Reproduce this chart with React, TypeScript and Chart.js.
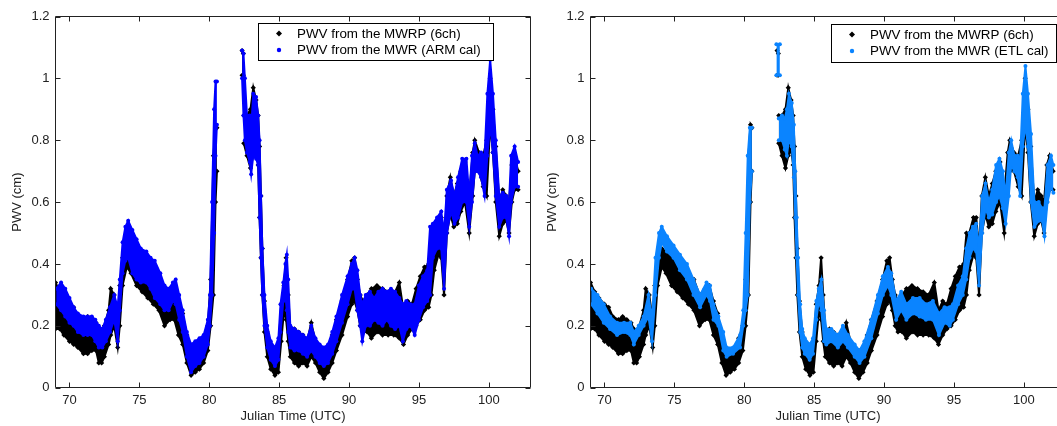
import React, { useEffect, useRef } from "react";
import { Chart, registerables } from "chart.js";

Chart.register(...registerables);

// ---- axis ticks ----
const xTickValues = [70, 75, 80, 85, 90, 95, 100];
const yTickValues = [0, 0.2, 0.4, 0.6, 0.8, 1, 1.2];

// ---- PWV from the MWRP (6ch): envelope (upper / lower) of the scatter, null = data gap ----
const mwrpT = [
  69.0, 69.3, 69.6, 70.0, 70.3, 70.6, 71.0, 71.3, 71.6, 71.9,
  72.1, 72.3, 72.5, 72.8, 72.95, 73.2, 73.45, 73.6, 73.8, 74.1,
  74.4, 74.8, 75.2, 75.6, 76.0, 76.4, 76.8, 77.2, 77.5, 77.8,
  78.1, 78.4, 78.7, 79.0, 79.3, 79.6, 79.9, 80.1, 80.3, 80.45,
  80.55, null, 82.35, 82.44, null, 82.47, 82.7, 82.95, 83.15, 83.35,
  83.5, 83.6, 83.7, 83.8, 83.95, 84.15, 84.4, 84.7, 84.95, 85.15,
  85.35, 85.5, 85.65, 85.8, 86.1, 86.4, 86.7, 87.0, 87.3, 87.6,
  87.9, 88.2, 88.5, 88.8, 89.1, 89.5, 89.9, 90.2, 90.4, 90.6,
  90.8, 91.0, 91.3, 91.6, 92.0, 92.4, 92.8, 93.2, 93.6, 93.9,
  94.2, 94.5, 94.8, 95.1, 95.4, 95.7, 95.9, 96.1, 96.4, 96.6,
  96.8, 97.0, 97.25, 97.5, 97.75, 98.0, 98.3, 98.6, 98.85, 99.0,
  99.3, 99.6, 99.85, 100.1, 100.3, 100.5, 100.75, 101.0, 101.25, 101.45,
  101.65, 101.85, 102.1,
];
const mwrpHi = [
  0.34, 0.31, 0.29, 0.27, 0.26, 0.23, 0.22, 0.23, 0.22, 0.21,
  0.19, 0.18, 0.20, 0.25, 0.32, 0.30, 0.22, 0.33, 0.42, 0.45,
  0.44, 0.42, 0.41, 0.39, 0.37, 0.35, 0.30, 0.32, 0.33, 0.28,
  0.24, 0.17, 0.13, 0.12, 0.13, 0.16, 0.20, 0.35, 0.75, 0.85,
  0.84, null, 1.09, 1.08, null, 0.88, 0.88, 0.90, 0.97, 0.93,
  0.88, 0.78, 0.62, 0.45, 0.28, 0.18, 0.13, 0.11, 0.13, 0.27,
  0.33, 0.42, 0.30, 0.19, 0.19, 0.18, 0.17, 0.15, 0.21, 0.15,
  0.13, 0.12, 0.13, 0.17, 0.22, 0.28, 0.35, 0.41, 0.42, 0.35,
  0.30, 0.28, 0.30, 0.32, 0.33, 0.32, 0.31, 0.30, 0.34, 0.25,
  0.28, 0.27, 0.32, 0.36, 0.39, 0.40, 0.50, 0.50, 0.55, 0.55,
  0.45, 0.62, 0.68, 0.62, 0.66, 0.70, 0.73, 0.62, 0.76, 0.80,
  0.76, 0.75, 0.80, 1.00, 0.90, 0.78, 0.60, 0.64, 0.62, 0.60,
  0.72, 0.75, 0.70,
];
const mwrpLo = [
  0.19, 0.19, 0.17, 0.15, 0.14, 0.13, 0.11, 0.11, 0.12, 0.12,
  0.08, 0.08, 0.10, 0.14, 0.17, 0.20, 0.13, 0.20, 0.33, 0.39,
  0.37, 0.33, 0.31, 0.29, 0.27, 0.25, 0.20, 0.22, 0.22, 0.17,
  0.14, 0.08, 0.04, 0.05, 0.06, 0.08, 0.12, 0.20, 0.30, 0.60,
  0.70, null, 1.01, 1.01, null, 0.79, 0.75, 0.71, 0.75, 0.77,
  0.72, 0.55, 0.42, 0.30, 0.18, 0.10, 0.06, 0.04, 0.05, 0.15,
  0.25, 0.22, 0.15, 0.10, 0.08, 0.07, 0.08, 0.07, 0.10, 0.08,
  0.05, 0.03, 0.05, 0.08, 0.12, 0.17, 0.23, 0.27, 0.28, 0.25,
  0.20, 0.18, 0.18, 0.16, 0.18, 0.17, 0.17, 0.17, 0.16, 0.14,
  0.17, 0.19, 0.20, 0.22, 0.25, 0.26, 0.30, 0.38, 0.43, 0.42,
  0.30, 0.50, 0.56, 0.52, 0.53, 0.57, 0.60, 0.50, 0.62, 0.70,
  0.70, 0.65, 0.62, 0.85, 0.76, 0.60, 0.49, 0.53, 0.54, 0.50,
  0.60, 0.64, 0.64,
];

// ---- PWV from the MWR (ARM cal) ----
const armT = [
  69.05, 69.4, 69.7, 70.0, 70.3, 70.6, 71.0, 71.3, 71.6, 71.85,
  72.1, 72.35, 72.6, 72.9, 73.2, 73.45, 73.6, 73.8, 74.0, 74.2,
  74.5, 74.8, 75.1, 75.5, 75.8, 76.1, 76.5, 76.8, 77.1, 77.4,
  77.6, 77.85, 78.1, 78.4, 78.7, 79.0, 79.3, 79.6, 79.9, 80.05,
  80.2, 80.35, 80.45, 80.55, null, 82.35, 82.45, 82.55, 82.7, 82.9,
  83.0, 83.15, 83.35, 83.5, 83.6, 83.7, 83.8, 83.95, 84.15, 84.4,
  84.7, 84.95, 85.1, 85.3, 85.45, 85.55, 85.65, 85.8, 86.1, 86.4,
  86.7, 87.0, 87.3, 87.6, 87.9, 88.2, 88.5, 88.8, 89.1, 89.5,
  89.9, 90.2, 90.4, 90.6, 90.8, 90.95, 91.2, 91.5, 91.8, 92.1,
  92.4, 92.7, 93.0, 93.3, 93.6, 93.85, 94.1, 94.4, 94.7, 95.0,
  95.3, 95.6, 95.8, 96.0, 96.3, 96.6, 96.8, 97.0, 97.3, 97.55,
  97.8, 98.1, 98.4, 98.6, 98.8, 99.0, 99.2, 99.45, 99.7, 99.9,
  100.1, 100.3, 100.5, 100.75, 101.0, 101.25, 101.45, 101.6, 101.85, 102.1,
];
const armHi = [
  0.32, 0.34, 0.32, 0.29, 0.26, 0.24, 0.23, 0.23, 0.23, 0.22,
  0.20, 0.19, 0.22, 0.26, 0.30, 0.26, 0.35, 0.47, 0.52, 0.54,
  0.51, 0.48, 0.45, 0.44, 0.42, 0.41, 0.37, 0.33, 0.32, 0.34,
  0.35, 0.30, 0.25, 0.18, 0.14, 0.15, 0.16, 0.17, 0.22, 0.30,
  0.60, 0.90, 0.99, 0.99, null, 1.09, 1.08, 1.00, 0.88, 0.88,
  0.84, 0.95, 0.94, 0.88, 0.80, 0.62, 0.45, 0.30, 0.20, 0.15,
  0.13, 0.16, 0.27, 0.34, 0.40, 0.43, 0.35, 0.20, 0.19, 0.18,
  0.17, 0.16, 0.20, 0.16, 0.14, 0.13, 0.14, 0.18, 0.23, 0.30,
  0.36, 0.40, 0.42, 0.38, 0.30, 0.27, 0.30, 0.31, 0.29, 0.31,
  0.32, 0.31, 0.32, 0.31, 0.29, 0.27, 0.28, 0.27, 0.27, 0.33,
  0.36, 0.38, 0.52, 0.53, 0.55, 0.57, 0.50, 0.64, 0.67, 0.62,
  0.68, 0.74, 0.74, 0.62, 0.75, 0.79, 0.75, 0.76, 0.75, 0.95,
  1.06, 0.95, 0.80, 0.62, 0.63, 0.62, 0.60, 0.75, 0.78, 0.73,
];
const armLo = [
  0.27, 0.25, 0.23, 0.21, 0.20, 0.18, 0.17, 0.17, 0.17, 0.15,
  0.13, 0.13, 0.15, 0.18, 0.22, 0.15, 0.25, 0.37, 0.41, 0.42,
  0.37, 0.35, 0.34, 0.34, 0.32, 0.29, 0.27, 0.25, 0.25, 0.28,
  0.27, 0.22, 0.18, 0.10, 0.05, 0.07, 0.08, 0.10, 0.14, 0.20,
  0.30, 0.50, 0.75, 0.85, null, 1.00, 0.88, 0.80, 0.76, 0.73,
  0.69, 0.75, 0.74, 0.72, 0.55, 0.42, 0.30, 0.20, 0.13, 0.09,
  0.07, 0.09, 0.18, 0.28, 0.30, 0.25, 0.18, 0.13, 0.12, 0.12,
  0.11, 0.10, 0.12, 0.10, 0.08, 0.07, 0.08, 0.11, 0.15, 0.21,
  0.27, 0.32, 0.32, 0.25, 0.20, 0.15, 0.20, 0.20, 0.22, 0.21,
  0.20, 0.22, 0.20, 0.19, 0.20, 0.15, 0.19, 0.20, 0.17, 0.22,
  0.26, 0.28, 0.30, 0.42, 0.45, 0.45, 0.32, 0.50, 0.57, 0.53,
  0.55, 0.60, 0.60, 0.52, 0.60, 0.70, 0.70, 0.68, 0.62, 0.75,
  0.85, 0.76, 0.62, 0.52, 0.55, 0.55, 0.49, 0.60, 0.65, 0.65,
];

// ---- PWV from the MWR (ETL cal) ----
const etlT = [
  69.05, 69.5, 69.95, 70.4, 70.9, 71.4, 71.85, 72.1, 72.45, 72.8,
  73.15, 73.4, 73.65, 73.9, 74.1, 74.47, 74.94, 75.4, 75.9, 76.37,
  76.84, 77.3, 77.55, 77.8, 78.15, 78.5, 78.74, 79.2, 79.7, 79.93,
  80.1, 80.25, 80.4, 80.55, null, 82.3, 82.55, null, 82.47, 82.7,
  82.9, 83.05, 83.2, 83.4, 83.55, 83.65, 83.75, 83.85, 84.0, 84.15,
  84.33, 84.68, 84.92, 85.16, 85.33, 85.52, 85.71, 85.87, 86.23, 86.7,
  87.06, 87.42, 87.9, 88.25, 88.6, 89.09, 89.56, 89.92, 90.28, 90.52,
  90.87, 91.23, 91.6, 92.07, 92.55, 93.0, 93.5, 93.93, 94.33, 94.7,
  94.93, 95.3, 95.64, 95.88, 96.12, 96.36, 96.6, 96.8, 97.02, 97.26,
  97.5, 97.74, 98.02, 98.26, 98.5, 98.7, 98.93, 99.1, 99.33, 99.57,
  99.74, 99.93, 100.12, 100.3, 100.52, 100.76, 101.07, 101.31, 101.48, 101.7,
  101.95, 102.12,
];
const etlHi = [
  0.32, 0.30, 0.27, 0.23, 0.21, 0.21, 0.21, 0.18, 0.20, 0.23,
  0.30, 0.22, 0.42, 0.50, 0.52, 0.49, 0.46, 0.43, 0.40, 0.35,
  0.30, 0.34, 0.33, 0.27, 0.23, 0.18, 0.13, 0.13, 0.17, 0.25,
  0.50, 0.75, 0.84, 0.84, null, 1.11, 1.11, null, 0.87, 0.88,
  0.87, 0.90, 0.95, 0.92, 0.85, 0.70, 0.55, 0.42, 0.27, 0.19,
  0.16, 0.14, 0.16, 0.28, 0.32, 0.35, 0.25, 0.19, 0.19, 0.17,
  0.20, 0.17, 0.14, 0.12, 0.15, 0.22, 0.30, 0.36, 0.39, 0.37,
  0.28, 0.31, 0.27, 0.29, 0.29, 0.27, 0.28, 0.24, 0.26, 0.26,
  0.27, 0.33, 0.36, 0.45, 0.50, 0.52, 0.53, 0.45, 0.62, 0.66,
  0.60, 0.64, 0.72, 0.74, 0.70, 0.62, 0.76, 0.80, 0.75, 0.75,
  0.74, 0.95, 1.04, 0.95, 0.82, 0.60, 0.60, 0.58, 0.58, 0.72,
  0.75, 0.72,
];
const etlLo = [
  0.27, 0.24, 0.21, 0.19, 0.17, 0.18, 0.17, 0.14, 0.17, 0.20,
  0.23, 0.15, 0.30, 0.42, 0.47, 0.44, 0.42, 0.38, 0.35, 0.30,
  0.26, 0.30, 0.28, 0.22, 0.20, 0.12, 0.10, 0.11, 0.13, 0.20,
  0.25, 0.30, 0.60, 0.70, null, 1.01, 1.01, null, 0.80, 0.80,
  0.77, 0.75, 0.80, 0.78, 0.68, 0.55, 0.42, 0.30, 0.18, 0.13,
  0.11, 0.09, 0.11, 0.22, 0.28, 0.25, 0.15, 0.14, 0.15, 0.13,
  0.15, 0.13, 0.10, 0.08, 0.10, 0.16, 0.24, 0.30, 0.33, 0.30,
  0.22, 0.25, 0.22, 0.24, 0.23, 0.22, 0.22, 0.17, 0.21, 0.20,
  0.22, 0.27, 0.30, 0.35, 0.42, 0.45, 0.44, 0.33, 0.50, 0.58,
  0.55, 0.56, 0.60, 0.62, 0.58, 0.53, 0.62, 0.72, 0.70, 0.68,
  0.62, 0.78, 0.85, 0.78, 0.60, 0.52, 0.54, 0.54, 0.49, 0.60,
  0.65, 0.63,
];

const mwrpLabel = "PWV from the MWRP (6ch)";
const armLabel = "PWV from the MWR (ARM cal)";
const etlLabel = "PWV from the MWR (ETL cal)";

const FONT = '"Liberation Sans", Arial, Helvetica, sans-serif';
const INK = "#222";

type Pt = { x: number; y: number };

function splitSegments(t: (number | null)[], hi: (number | null)[], lo: (number | null)[]) {
  const segs: { hi: Pt[]; lo: Pt[] }[] = [];
  let cur = { hi: [] as Pt[], lo: [] as Pt[] };
  for (let i = 0; i < t.length; i++) {
    if (t[i] === null || hi[i] === null || lo[i] === null) {
      if (cur.hi.length) segs.push(cur);
      cur = { hi: [], lo: [] };
      continue;
    }
    cur.hi.push({ x: t[i] as number, y: hi[i] as number });
    cur.lo.push({ x: t[i] as number, y: lo[i] as number });
  }
  if (cur.hi.length) segs.push(cur);
  return segs;
}

function bandDatasets(
  t: (number | null)[],
  hi: (number | null)[],
  lo: (number | null)[],
  color: string,
  order: number,
  pointStyle: string,
  radius: number
) {
  const out: any[] = [];
  splitSegments(t, hi, lo).forEach((seg) => {
    const common = {
      borderColor: color,
      backgroundColor: color,
      borderWidth: 2,
      pointRadius: radius,
      pointStyle,
      pointBackgroundColor: color,
      pointBorderColor: color,
      pointBorderWidth: 0,
      tension: 0,
      order,
      spanGaps: false,
    };
    out.push({ ...common, data: seg.hi, fill: "+1" });
    out.push({ ...common, data: seg.lo, fill: false });
  });
  return out;
}

const framePlugin = {
  id: "frame",
  afterDraw(chart: any) {
    const { ctx, chartArea: a, scales } = chart;
    const xs = scales.x;
    const ys = scales.y;
    const L = Math.floor(a.left) + 0.5;
    const R = Math.floor(a.right) + 0.5;
    const T = Math.floor(a.top) + 0.5;
    const B = Math.floor(a.bottom) + 0.5;
    const tick = 5;
    ctx.save();
    ctx.strokeStyle = INK;
    ctx.lineWidth = 1;
    ctx.beginPath();
    ctx.rect(L, T, R - L, B - T);
    xTickValues.forEach((v) => {
      const px = Math.round(xs.getPixelForValue(v)) + 0.5;
      ctx.moveTo(px, B);
      ctx.lineTo(px, B - tick);
      ctx.moveTo(px, T);
      ctx.lineTo(px, T + tick);
    });
    yTickValues.forEach((v) => {
      const py = Math.round(ys.getPixelForValue(v)) + 0.5;
      ctx.moveTo(L, py);
      ctx.lineTo(L + tick, py);
      ctx.moveTo(R, py);
      ctx.lineTo(R - tick, py);
    });
    ctx.stroke();
    ctx.restore();
  },
};

const legendPlugin = {
  id: "boxLegend",
  afterDraw(chart: any, _args: any, opts: any) {
    const { ctx } = chart;
    const { x, y, w, h, items } = opts;
    ctx.save();
    ctx.fillStyle = "#fff";
    ctx.fillRect(x, y, w, h);
    ctx.strokeStyle = "#000";
    ctx.lineWidth = 1;
    ctx.strokeRect(x + 0.5, y + 0.5, w, h);
    ctx.font = `13.4px ${FONT}`;
    ctx.textBaseline = "middle";
    ctx.textAlign = "left";
    items.forEach((it: any, i: number) => {
      const cy = y + 10.5 + i * 16.5;
      const mx = x + 21;
      ctx.fillStyle = it.color;
      ctx.beginPath();
      if (it.shape === "diamond") {
        ctx.moveTo(mx, cy - 3);
        ctx.lineTo(mx + 3, cy);
        ctx.lineTo(mx, cy + 3);
        ctx.lineTo(mx - 3, cy);
        ctx.closePath();
      } else {
        ctx.arc(mx, cy, 2.2, 0, Math.PI * 2);
      }
      ctx.fill();
      ctx.fillStyle = "#000";
      ctx.fillText(it.label, x + 39, cy + 0.5);
    });
    ctx.restore();
  },
};

const CANVAS_W = 540;
const CANVAS_H = 426;

function Panel(props: {
  left: number;
  blueT: (number | null)[];
  blueHi: (number | null)[];
  blueLo: (number | null)[];
  blueColor: string;
  blueLabel: string;
  legendBox: { x: number; y: number; w: number; h: number };
}) {
  const ref = useRef<HTMLCanvasElement | null>(null);
  useEffect(() => {
    if (!ref.current) return;
    const tickFont = { family: FONT, size: 13 };
    const chart = new Chart(ref.current, {
      type: "line",
      data: {
        datasets: [
          ...bandDatasets(props.blueT, props.blueHi, props.blueLo, props.blueColor, 0, "circle", 2),
          ...bandDatasets(mwrpT, mwrpHi, mwrpLo, "#000", 1, "rectRot", 2.6),
        ],
      },
      options: {
        responsive: false,
        animation: false,
        events: [],
        layout: { padding: { top: 16.5, right: 9.3, left: 0, bottom: 0 } },
        scales: {
          x: {
            type: "linear",
            min: 69,
            max: 103,
            afterFit: (s: any) => {
              s.height = 38.3;
            },
            afterBuildTicks: (s: any) => {
              s.ticks = xTickValues.map((v) => ({ value: v }));
            },
            grid: { display: false, drawTicks: false },
            border: { display: false },
            ticks: {
              autoSkip: false,
              maxRotation: 0,
              padding: 5,
              font: tickFont,
              color: INK,
              callback: (v: any) => String(v),
            },
            title: {
              display: true,
              text: "Julian Time (UTC)",
              font: tickFont,
              color: INK,
              padding: { top: 0, bottom: 1.5 },
            },
          },
          y: {
            type: "linear",
            min: 0,
            max: 1.2,
            afterFit: (s: any) => {
              s.width = 55.5;
            },
            afterBuildTicks: (s: any) => {
              s.ticks = yTickValues.map((v) => ({ value: v }));
            },
            grid: { display: false, drawTicks: false },
            border: { display: false },
            ticks: {
              autoSkip: false,
              padding: 6,
              font: tickFont,
              color: INK,
              callback: (v: any) => String(v),
            },
            title: {
              display: true,
              text: "PWV (cm)",
              font: tickFont,
              color: INK,
              padding: { top: 10, bottom: 0 },
            },
          },
        },
        plugins: {
          legend: { display: false },
          tooltip: { enabled: false },
          boxLegend: {
            ...props.legendBox,
            items: [
              { label: mwrpLabel, color: "#000", shape: "diamond" },
              { label: props.blueLabel, color: props.blueColor, shape: "dot" },
            ],
          },
        } as any,
      },
      plugins: [framePlugin, legendPlugin],
    } as any);
    return () => chart.destroy();
  }, []);
  return (
    <canvas
      ref={ref}
      width={CANVAS_W}
      height={CANVAS_H}
      style={{ position: "absolute", left: props.left, top: 0, width: CANVAS_W, height: CANVAS_H }}
    />
  );
}

export default function App() {
  return (
    <div
      style={{
        position: "fixed",
        left: 0,
        top: 0,
        width: 1057,
        height: 426,
        overflow: "hidden",
        background: "#fff",
      }}
    >
      <Panel
        left={0}
        blueT={armT}
        blueHi={armHi}
        blueLo={armLo}
        blueColor="#0000ff"
        blueLabel={armLabel}
        legendBox={{ x: 258, y: 23, w: 235, h: 37 }}
      />
      <Panel
        left={535}
        blueT={etlT}
        blueHi={etlHi}
        blueLo={etlLo}
        blueColor="#0a84ff"
        blueLabel={etlLabel}
        legendBox={{ x: 296, y: 24, w: 225, h: 38 }}
      />
    </div>
  );
}
